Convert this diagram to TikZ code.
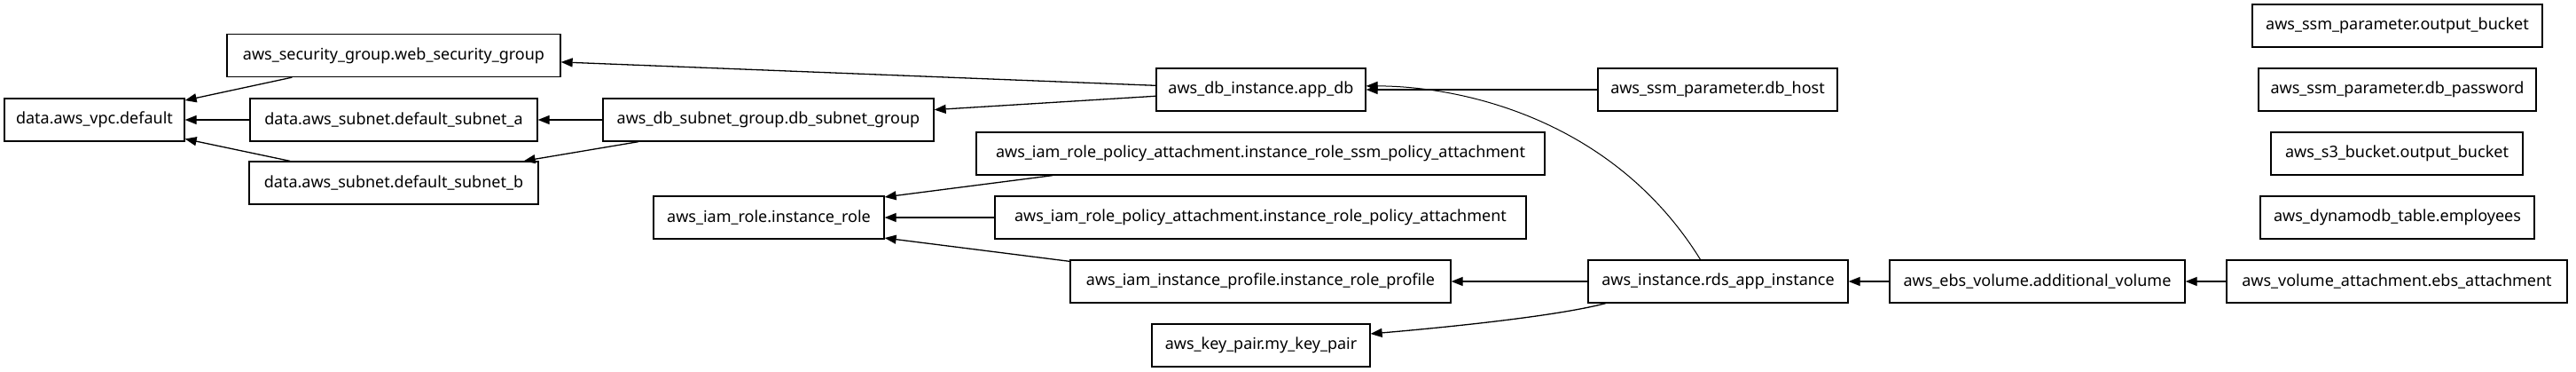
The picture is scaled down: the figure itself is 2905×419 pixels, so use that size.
\documentclass[tikz,border=0pt]{standalone}
\usepackage{fontspec}
\setmainfont{Noto Sans}
\usetikzlibrary{arrows.meta}

\begin{document}
\begin{tikzpicture}[
  x=1pt,y=-1pt,
  box/.style={draw,line width=1.3pt,minimum height=48pt,inner sep=0pt,font=\fontsize{18}{21}\selectfont},
  arrow/.style={-{Triangle[length=13pt,width=10pt]},line width=1.3pt}
]
  \useasboundingbox (0,0) rectangle (2905,419);
  \fill[white] (0,0) rectangle (2905,419);

  % left part: vpc and subnets
  \node[box,minimum width=203pt] (vpc) at (106.5,135) {data.aws\_vpc.default};
  \node[box,minimum width=376pt] (websg) at (444,62.5) {aws\_security\_group.web\_security\_group};
  \node[box,minimum width=324pt] (subneta) at (444,135) {data.aws\_subnet.default\_subnet\_a};
  \node[box,minimum width=326pt] (subnetb) at (444,206) {data.aws\_subnet.default\_subnet\_b};
  \node[box,minimum width=373pt] (dbsubnets) at (866.5,135) {aws\_db\_subnet\_group.db\_subnet\_group};
  \node[box,minimum width=260pt] (role) at (867,245) {aws\_iam\_role.instance\_role};

  % middle column
  \node[box,minimum width=236pt] (appdb) at (1422,101) {aws\_db\_instance.app\_db};
  \node[box,minimum width=641pt] (ssmpol) at (1421.5,173) {aws\_iam\_role\_policy\_attachment.instance\_role\_ssm\_policy\_attachment};
  \node[box,minimum width=599pt] (rolepol) at (1421.5,245) {aws\_iam\_role\_policy\_attachment.instance\_role\_policy\_attachment};
  \node[box,minimum width=429pt] (profile) at (1421.5,317) {aws\_iam\_instance\_profile.instance\_role\_profile};
  \node[box,minimum width=246pt] (keypair) at (1422,389) {aws\_key\_pair.my\_key\_pair};

  % right part
  \node[box,minimum width=270pt] (dbhost) at (1937,101) {aws\_ssm\_parameter.db\_host};
  \node[box,minimum width=293pt] (rds) at (1937.5,317) {aws\_instance.rds\_app\_instance};
  \node[box,minimum width=333pt] (ebs) at (2297.5,317) {aws\_ebs\_volume.additional\_volume};
  \node[box,minimum width=384pt] (ebsatt) at (2703,317) {aws\_volume\_attachment.ebs\_attachment};
  \node[box,minimum width=327pt] (outparam) at (2703.5,29) {aws\_ssm\_parameter.output\_bucket};
  \node[box,minimum width=313pt] (dbpass) at (2703.5,101) {aws\_ssm\_parameter.db\_password};
  \node[box,minimum width=284pt] (bucket) at (2703,173) {aws\_s3\_bucket.output\_bucket};
  \node[box,minimum width=309pt] (dynamo) at (2703.5,245) {aws\_dynamodb\_table.employees};

  \draw[arrow] (websg) -- (vpc);
  \draw[arrow] (subneta) -- (vpc);
  \draw[arrow] (subnetb) -- (vpc);
  \draw[arrow] (dbsubnets) -- (subneta);
  \draw[arrow] (dbsubnets) -- (subnetb);
  \draw[arrow] (appdb) -- (websg);
  \draw[arrow] (appdb) -- (dbsubnets);
  \draw[arrow] (dbhost) -- (appdb);
  \draw[arrow,line width=1pt] (rds.129) .. controls (1820,135) and (1650,97) .. (appdb.2);
  \draw[arrow] (ssmpol.186) -- (role.10);
  \draw[arrow] (rolepol) -- (role);
  \draw[arrow] (profile.174) -- (role.-10);
  \draw[arrow] (rds) -- (profile);
  \draw[arrow] (rds.191) .. controls (1760,355) and (1650,367) .. (keypair.6);
  \draw[arrow] (ebs) -- (rds);
  \draw[arrow] (ebsatt) -- (ebs);
\end{tikzpicture}
\end{document}
